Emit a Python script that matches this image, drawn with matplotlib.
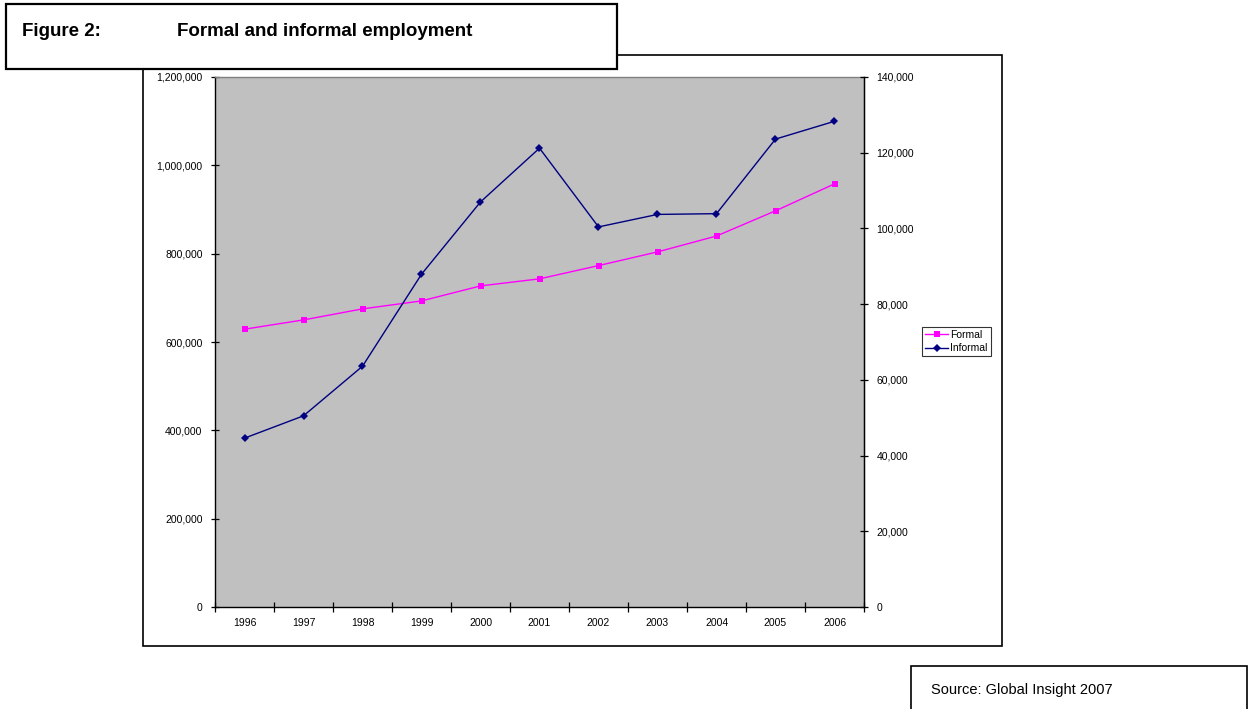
import matplotlib
matplotlib.use("Agg")
import matplotlib.pyplot as plt
from matplotlib.patches import Rectangle
from matplotlib.lines import Line2D
from matplotlib.ticker import FuncFormatter, MultipleLocator
import numpy as np

years = ["1996", "1997", "1998", "1999", "2000", "2001", "2002", "2003", "2004", "2005", "2006"]
formal = [629000, 650000, 675000, 693000, 727000, 743000, 773000, 804000, 840000, 897000, 958000]
informal = [44600, 50500, 63600, 87900, 107000, 121200, 100400, 103700, 103900, 123600, 128300]

left_ticks = [0, 200000, 400000, 600000, 800000, 1000000, 1200000]
right_ticks = [0, 20000, 40000, 60000, 80000, 100000, 120000, 140000]

plt.rcParams['font.family'] = ['Liberation Sans', 'DejaVu Sans']

W, H = 1251, 709
fig = plt.figure(figsize=(W / 100, H / 100), dpi=100)
fig.patch.set_facecolor('white')

def fx(x):
    return x / W

def fy(y):
    return 1 - y / H

# chart outer frame
fig.patches.append(Rectangle((fx(143), fy(646)), fx(1002) - fx(143), fy(55) - fy(646),
                             transform=fig.transFigure, fill=False, edgecolor='black',
                             linewidth=1.2, zorder=0))

ax = fig.add_axes([fx(215), fy(607), fx(864) - fx(215), fy(77) - fy(607)])
ax.set_facecolor('#C0C0C0')
x = np.arange(len(years))
ax.plot(x, formal, color='#FF00FF', marker='s', markersize=4.5, linewidth=1.0,
        markeredgewidth=0, zorder=3)
ax.set_xlim(-0.5, len(years) - 0.5)
ax.set_ylim(left_ticks[0], left_ticks[-1])
ax.set_yticks(left_ticks)
ax.yaxis.set_major_formatter(FuncFormatter(lambda v, p: f"{int(v):,}"))
ax.set_xticks(x)
ax.set_xticklabels(years)
ax.xaxis.set_minor_locator(MultipleLocator(1, offset=0.5))
ax.tick_params(axis='x', which='major', length=0, pad=8, labelsize=7.5)
ax.tick_params(axis='x', which='minor', direction='inout', length=7, width=0.9)
ax.tick_params(axis='y', direction='inout', length=6, width=0.9, pad=6, labelsize=7.5)
for s in ['left', 'bottom']:
    ax.spines[s].set_color('black')
    ax.spines[s].set_linewidth(1.0)
ax.spines['top'].set_color('#808080')
ax.spines['top'].set_linewidth(1.0)

ax2 = ax.twinx()
ax2.plot(x, informal, color='#000080', marker='D', markersize=4.0, linewidth=1.0,
         markeredgewidth=0, zorder=3)
ax2.set_ylim(right_ticks[0], right_ticks[-1])
ax2.set_yticks(right_ticks)
ax2.yaxis.set_major_formatter(FuncFormatter(lambda v, p: f"{int(v):,}"))
ax2.tick_params(axis='y', direction='inout', length=6, width=0.9, pad=6, labelsize=7.5)
ax2.spines['right'].set_color('black')
ax2.spines['right'].set_linewidth(1.0)
ax2.spines['top'].set_visible(False)
ax2.spines['left'].set_visible(False)
ax2.spines['bottom'].set_visible(False)

handles = [Line2D([], [], color='#FF00FF', marker='s', markersize=4.5, markeredgewidth=0, linewidth=1.0),
           Line2D([], [], color='#000080', marker='D', markersize=4.0, markeredgewidth=0, linewidth=1.0)]
leg = fig.legend(handles, ['Formal', 'Informal'], loc='upper left',
                 bbox_to_anchor=(fx(922), fy(327)), frameon=True, fancybox=False,
                 edgecolor='black', fontsize=7.5, handlelength=2.2, handletextpad=0.2,
                 borderpad=0.3, labelspacing=0.3, borderaxespad=0)
leg.get_frame().set_linewidth(0.8)

# title box
fig.patches.append(Rectangle((fx(6), fy(69)), fx(617) - fx(6), fy(4) - fy(69),
                             transform=fig.transFigure, facecolor='white', edgecolor='black',
                             linewidth=1.6, zorder=5))
tfont = ['Liberation Sans Narrow', 'Liberation Sans', 'DejaVu Sans']
fig.text(fx(22), fy(31), "Figure 2:", fontsize=13.5, family=tfont, weight='bold',
         va='center', ha='left', zorder=6)
fig.text(fx(177), fy(31), "Formal and informal employment", fontsize=13.5, family=tfont,
         weight='bold', va='center', ha='left', zorder=6)

# source box
fig.patches.append(Rectangle((fx(911), fy(715)), fx(1247) - fx(911), fy(666) - fy(715),
                             transform=fig.transFigure, facecolor='white', edgecolor='black',
                             linewidth=1.2, zorder=5))
fig.text(fx(931), fy(690), "Source: Global Insight 2007", fontsize=10.5, va='center', ha='left', zorder=6)

fig.savefig("out.png", dpi=100)
